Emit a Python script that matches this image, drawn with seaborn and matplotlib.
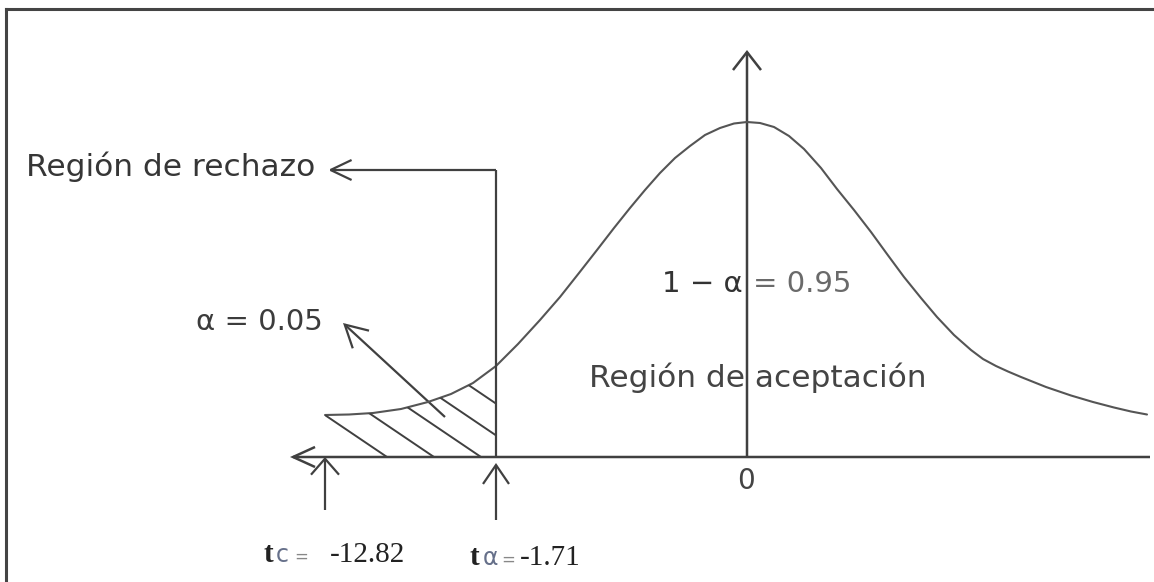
import numpy as np
import matplotlib
matplotlib.use("Agg")
import matplotlib.pyplot as plt
from matplotlib.patches import FancyArrowPatch, ArrowStyle
from matplotlib.collections import LineCollection
import seaborn as sns

# ---- data (diagram units: 0 = mean / baseline) ----
curve_x = [-422, -398, -374, -346, -319, -296, -274, -251, -229, -207, -187, -168, -150,
           -133, -117, -102, -87, -72, -57, -42, -27, -13, 0,
           13, 27, 42, 57, 74, 90, 107, 124, 140, 157, 174, 190, 207, 224,
           236, 249, 261, 274, 299, 324, 346, 367, 384, 400]
curve_h = [42, 42.5, 44, 48, 55, 63, 74, 91, 113, 137, 160, 184, 207,
           229, 249, 267, 284, 299, 311, 322, 329, 333.5, 335,
           334, 330, 321, 308, 289, 268, 247, 225, 203, 180, 159, 140, 122, 107,
           98, 91, 85.5, 80, 70, 61.5, 55, 49.5, 45.5, 42.5]
crit_x = [-422, -251]                 # t_c, t_alpha positions on the axis
crit_labels = ["-12.82", "-1.71"]
crit_names = ["c", "α"]
alpha_label = "α = 0.05"
conf_label_a = "1 − α"
conf_label_b = "= 0.95"
reject_label = "Región de rechazo"
accept_label = "Región de aceptación"
center_label = "0"

DPI = 100
W, H = 1154, 582
sns.set_theme(style="white")
plt.rcParams["font.family"] = ["DejaVu Sans"]

fig = plt.figure(figsize=(W / DPI, H / DPI), dpi=DPI)
fig.patch.set_facecolor("white")
ax = fig.add_axes([6 / W, 0, (W - 6) / W, (H - 9) / H])
ax.set_xlim(-741, 407)
ax.set_ylim(-125, 448)
ax.set_xticks([])
ax.set_yticks([])
for s in ["right", "bottom"]:
    ax.spines[s].set_visible(False)
for s in ["left", "top"]:
    ax.spines[s].set_visible(True)
    ax.spines[s].set_color("#444444")
    ax.spines[s].set_linewidth(2.2)

LINE = "#404040"
CURVE = "#555555"

# bell curve
sns.lineplot(x=curve_x, y=curve_h, ax=ax, color=CURVE, linewidth=1.5, sort=False)
for ln in ax.lines:
    ln.set_solid_joinstyle("round")
    ln.set_solid_capstyle("round")

# hatched rejection tail
cx = np.array(curve_x)
ch = np.array(curve_h)
mask = cx <= crit_x[1]
poly = ax.fill_between(cx[mask], ch[mask], 0, facecolor="none", edgecolor="none")
slope = -0.676
spacing = 47
starts = crit_x[0] + 62 + spacing * np.arange(5)
segs = [[(x0 - 200, slope * (-200)), (x0 + 10, slope * 10)] for x0 in starts]
lc = LineCollection(segs, colors=LINE, linewidths=1.4)
ax.add_collection(lc)
lc.set_clip_path(poly.get_paths()[0], ax.transData)


def arrow(tail, tip, hl_px, hw_px, lw=1.6, color=LINE):
    st = ArrowStyle("->", head_length=hl_px * 72 / DPI, head_width=hw_px * 72 / DPI)
    p = FancyArrowPatch(tail, tip, arrowstyle=st, mutation_scale=1,
                        shrinkA=0, shrinkB=0, lw=lw, color=color,
                        joinstyle="miter", capstyle="butt")
    ax.add_patch(p)


# axes of the diagram
arrow((403, 0), (-457, 0), 22, 10, lw=1.8)
arrow((0, 0), (0, 407), 18, 14, lw=1.8)

# rejection-region pointer
ax.plot([crit_x[1], crit_x[1]], [0, 287], color=LINE, lw=1.6, solid_capstyle="butt")
arrow((crit_x[1], 287), (-419, 287), 21, 10)

# critical value arrows
arrow((crit_x[0], -53), (crit_x[0], 0), 16, 14)
arrow((crit_x[1], -63), (crit_x[1], -6), 19, 13)

# alpha pointer
arrow((-302, 40), (-404, 134), 22, 12)

# ---- texts ----
sans = 22.5
ax.text(-576, 281, reject_label, fontsize=sans, color="#363636",
        ha="center", va="baseline")
ax.text(-488, 127, alpha_label, fontsize=21, color="#3c3c3c",
        ha="center", va="baseline")
ax.text(-4, 165, conf_label_a, fontsize=21, color="#333333",
        ha="right", va="baseline")
ax.text(6, 165, conf_label_b, fontsize=21, color="#6a6a6a",
        ha="left", va="baseline")
ax.text(11, 70, accept_label, fontsize=sans, color="#444444",
        ha="center", va="baseline")
ax.text(-1, -10, center_label, fontsize=20, color="#444444",
        ha="center", va="top")

serif = ["Liberation Serif", "DejaVu Serif"]
base_y = [-105, -108]
t_off = [-62, -26]
for cxv, lab, nm, by, toff in zip(crit_x, crit_labels, crit_names, base_y, t_off):
    x0 = cxv + toff
    ax.text(x0, by, "t", fontsize=21, fontweight="bold", family=serif,
            color="#222222", ha="left", va="baseline")
    ax.text(x0 + 13, by, nm, fontsize=17, family=["DejaVu Sans"],
            color="#66708a", ha="left", va="baseline")
    ax.text(x0 + 31, by, "=", fontsize=12, family=["DejaVu Sans"],
            color="#888888", ha="left", va="baseline")
    ax.text(cxv + (5 if toff == -62 else 24), by, lab, fontsize=21, family=serif,
            color="#222222", ha="left", va="baseline")

fig.savefig("out.png", dpi=DPI, facecolor="white")
